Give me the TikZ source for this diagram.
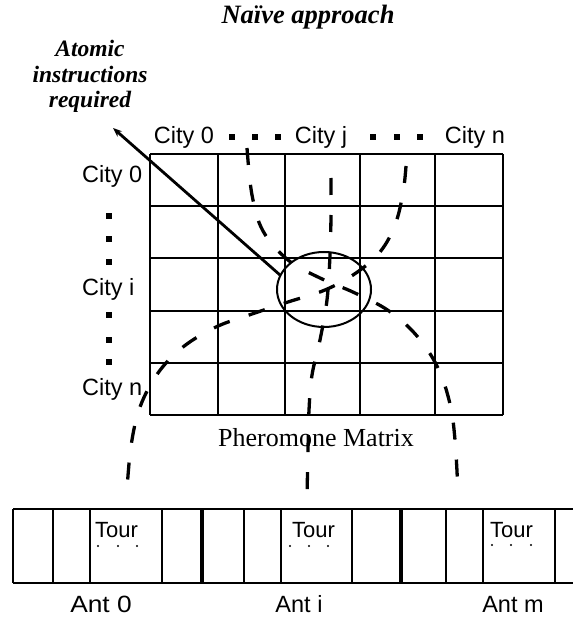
\documentclass[tikz,border=0pt]{standalone}
\usepackage{fontspec}
\setmainfont{Liberation Serif}
\newfontfamily\sansf{Liberation Sans}
\usetikzlibrary{arrows.meta}

\begin{document}
\begin{tikzpicture}[x=1pt,y=-1pt,
  gridline/.style={line width=2.2pt},
  cellline/.style={line width=1.8pt},
  sepline/.style={line width=4.8pt},
  flow/.style={line width=3.3pt, dash pattern=on 17pt off 20pt},
  sanslbl/.style={font=\sansf\fontsize{23.5}{28}\selectfont, inner sep=0pt},
  tourlbl/.style={font=\sansf\fontsize{22}{26}\selectfont, inner sep=0pt, anchor=base west},
  boldit/.style={font=\bfseries\itshape\fontsize{23.5}{26}\selectfont, inner sep=0pt, anchor=base},
  sq/.style={fill=black, minimum size=5.5pt, inner sep=0pt, draw=none},
  tdot/.style={fill=black, circle, minimum size=2.4pt, inner sep=0pt, draw=none}
]
\useasboundingbox (0,0) rectangle (573,617);

% title and note
\node[font=\bfseries\itshape\fontsize{26.5}{30}\selectfont, inner sep=0pt, anchor=base] (title) at (308,24) {Naïve approach};
\node[boldit] (note1) at (90,57) {Atomic};
\node[boldit] (note2) at (90,83) {instructions};
\node[boldit] (note3) at (90,108) {required};

% pheromone matrix grid
\foreach \xx in {150,218,285,360,435,503}
  \draw[gridline] (\xx,154) -- (\xx,415);
\foreach \yy in {154,206,258,311,363,415}
  \draw[gridline] (150,\yy) -- (503,\yy);
\node[font=\fontsize{26}{30}\selectfont, inner sep=0pt, anchor=base] (pm) at (316,446) {Pheromone Matrix};

% column headers
\node[sanslbl, anchor=base] (hc0) at (184,144) {City 0};
\node[sanslbl, anchor=base] (hcj) at (321,144) {City j};
\node[sanslbl, anchor=base] (hcn) at (475,144) {City n};
\foreach \xx [count=\k] in {232,255,278,373,397,420}
  \node[sq] (hd\k) at (\xx,137) {};

% row headers
\node[sanslbl, anchor=base west] (rc0) at (82,183) {City 0};
\node[sanslbl, anchor=base west] (rci) at (82,295) {City i};
\node[sanslbl, anchor=base west] (rcn) at (82,395) {City n};
\foreach \yy [count=\k] in {216,239,262,315,340,362}
  \node[sq] (vd\k) at (109,\yy) {};

% conflict region
\draw[line width=2pt] (324,289.5) ellipse [x radius=47pt, y radius=37.5pt];
\coordinate (hit) at (280,275);
\coordinate (tip) at (113,128);
\draw[line width=2.8pt, -{Stealth[length=9pt,width=7pt]}] (hit) -- (tip);

% ant updates travelling to the matrix
\draw[flow] plot[smooth, tension=0.6] coordinates {(247,148) (252,195) (263,231) (288,260) (320,278) (355,293) (389,311) (417,336) (438,368) (450,404) (455,440) (458,492)};
\draw[flow] plot[smooth, tension=0.6] coordinates {(406,166) (403,193) (395,225) (380,252) (356,273) (325,290) (288,302) (252,314) (216,327) (183,347) (158,373) (140,407) (131,446) (127,490)};
\draw[flow] plot[smooth, tension=0.6] coordinates {(331,178) (331,215) (330,255) (327,300) (320,340) (312,375) (309,410) (308,450) (307,497)};

% ant tour array
\draw[cellline] (13,509) -- (573,509);
\draw[cellline] (13,583) -- (573,583);
\foreach \xx in {13,53,90,162,244,281,352,446,483,555}
  \draw[cellline] (\xx,509) -- (\xx,583);
\foreach \xx in {202,401}
  \draw[sepline] (\xx,509) -- (\xx,583);

\node[tourlbl] (t0) at (95,537) {Tour};
\node[tourlbl] (ti) at (292,537) {Tour};
\node[tourlbl] (tm) at (490,537) {Tour};
\foreach \xx [count=\k] in {98,118,137}
  \node[tdot] (d0\k) at (\xx,546) {};
\foreach \xx [count=\k] in {290,309,328}
  \node[tdot] (di\k) at (\xx,546) {};
\foreach \xx [count=\k] in {492,511,531}
  \node[tdot] (dm\k) at (\xx,545) {};

\node[sanslbl, anchor=base] (a0) at (101,612) {\scalebox{1.12}[1]{Ant 0}};
\node[sanslbl, anchor=base] (ai) at (299,612) {Ant i};
\node[sanslbl, anchor=base] (am) at (513,612) {Ant m};
\end{tikzpicture}
\end{document}
